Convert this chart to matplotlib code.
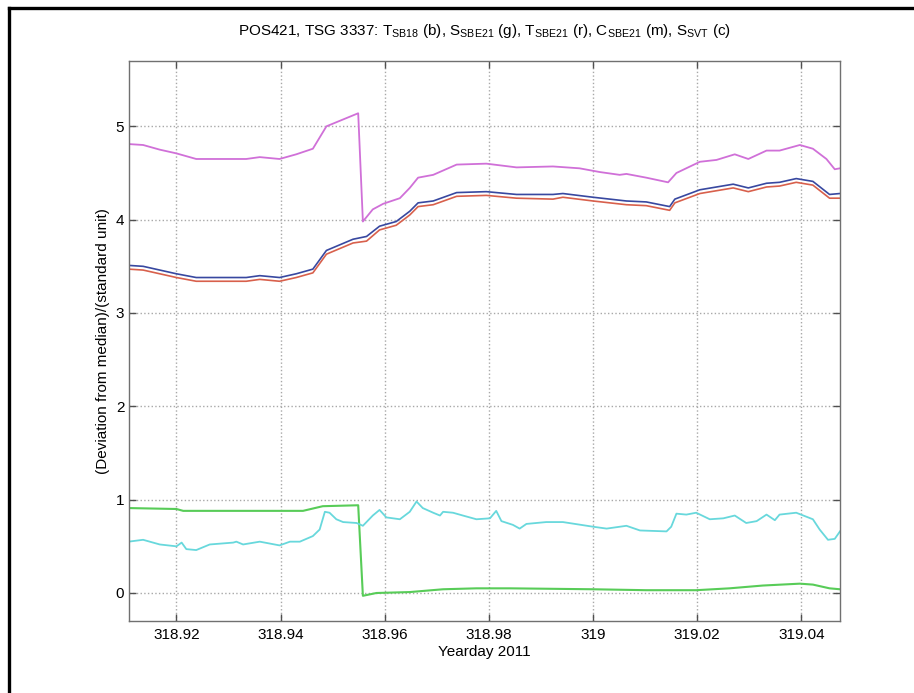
import matplotlib
matplotlib.use("Agg")
import matplotlib.pyplot as plt
from matplotlib.lines import Line2D

plt.rcParams['font.family'] = ['Liberation Sans', 'DejaVu Sans']

# C_SBE21 (magenta)
mag_x = [318.9108, 318.9136, 318.9168, 318.9200, 318.9238, 318.9334, 318.9360, 318.9398,
         318.9430, 318.9462, 318.9488, 318.9549, 318.9558, 318.9577, 318.9597, 318.9629,
         318.9648, 318.9664, 318.9693, 318.9738, 318.9795, 318.9853, 318.9923, 318.9974,
         319.0013, 319.0051, 319.0064, 319.0102, 319.0144, 319.0160, 319.0205, 319.0237,
         319.0272, 319.0298, 319.0333, 319.0358, 319.0397, 319.0422, 319.0448, 319.0464,
         319.0474]
mag_y = [4.81, 4.80, 4.75, 4.71, 4.65, 4.65, 4.67, 4.65,
         4.70, 4.76, 5.00, 5.14, 3.98, 4.11, 4.17, 4.23,
         4.34, 4.45, 4.48, 4.59, 4.60, 4.56, 4.57, 4.55,
         4.51, 4.48, 4.49, 4.45, 4.40, 4.50, 4.62, 4.64,
         4.70, 4.65, 4.74, 4.74, 4.80, 4.76, 4.65, 4.54,
         4.55]

# T_SB18 (blue) and T_SBE21 (red)
temp_x = [318.9108, 318.9136, 318.9200, 318.9238, 318.9334, 318.9360, 318.9398, 318.9430,
          318.9462, 318.9488, 318.9539, 318.9565, 318.9590, 318.9622, 318.9648, 318.9664,
          318.9693, 318.9738, 318.9795, 318.9853, 318.9923, 318.9942, 319.0000, 319.0064,
          319.0102, 319.0147, 319.0157, 319.0205, 319.0269, 319.0298, 319.0333, 319.0358,
          319.0390, 319.0422, 319.0454, 319.0474]
blue_y = [3.51, 3.50, 3.42, 3.38, 3.38, 3.40, 3.38, 3.42,
          3.47, 3.67, 3.79, 3.82, 3.93, 3.98, 4.09, 4.18,
          4.20, 4.29, 4.30, 4.27, 4.27, 4.28, 4.24, 4.20,
          4.19, 4.14, 4.22, 4.32, 4.38, 4.34, 4.39, 4.40,
          4.44, 4.41, 4.27, 4.28]
red_y = [3.47, 3.46, 3.38, 3.34, 3.34, 3.36, 3.34, 3.38,
         3.43, 3.63, 3.75, 3.77, 3.89, 3.94, 4.05, 4.14,
         4.16, 4.25, 4.26, 4.23, 4.22, 4.24, 4.20, 4.16,
         4.15, 4.10, 4.18, 4.28, 4.34, 4.30, 4.35, 4.36,
         4.40, 4.37, 4.23, 4.23]

# S_SVT (cyan)
cyan_x = [318.9108, 318.9136, 318.9168, 318.9200, 318.9210, 318.9219, 318.9238, 318.9264,
          318.9309, 318.9315, 318.9328, 318.9360, 318.9398, 318.9418, 318.9437, 318.9462,
          318.9475, 318.9485, 318.9494, 318.9507, 318.9520, 318.9546, 318.9558, 318.9577,
          318.9590, 318.9603, 318.9629, 318.9648, 318.9661, 318.9673, 318.9693, 318.9706,
          318.9712, 318.9731, 318.9750, 318.9776, 318.9802, 318.9814, 318.9824, 318.9846,
          318.9859, 318.9872, 318.9910, 318.9942, 319.0000, 319.0026, 319.0064, 319.0090,
          319.0141, 319.0150, 319.0160, 319.0179, 319.0198, 319.0224, 319.0250, 319.0272,
          319.0294, 319.0314, 319.0333, 319.0349, 319.0358, 319.0390, 319.0422, 319.0435,
          319.0451, 319.0464, 319.0474]
cyan_y = [0.55, 0.57, 0.52, 0.50, 0.54, 0.47, 0.46, 0.52,
          0.54, 0.55, 0.52, 0.55, 0.51, 0.55, 0.55, 0.61,
          0.68, 0.87, 0.86, 0.79, 0.76, 0.75, 0.72, 0.83,
          0.89, 0.81, 0.79, 0.87, 0.98, 0.91, 0.86, 0.83,
          0.87, 0.86, 0.83, 0.79, 0.80, 0.88, 0.77, 0.73,
          0.69, 0.74, 0.76, 0.76, 0.71, 0.69, 0.72, 0.67,
          0.66, 0.71, 0.85, 0.84, 0.86, 0.79, 0.80, 0.83,
          0.75, 0.77, 0.84, 0.78, 0.84, 0.86, 0.79, 0.68,
          0.57, 0.58, 0.66]

# S_SBE21 (green)
green_x = [318.9108, 318.9200, 318.9213, 318.9443, 318.9481, 318.9549, 318.9558, 318.9584,
           318.9648, 318.9712, 318.9776, 318.9840, 319.0000, 319.0102, 319.0198, 319.0262,
           319.0326, 319.0397, 319.0422, 319.0454, 319.0474]
green_y = [0.91, 0.90, 0.88, 0.88, 0.93, 0.94, -0.03, 0.00,
           0.01, 0.04, 0.05, 0.05, 0.04, 0.03, 0.03, 0.05,
           0.08, 0.10, 0.09, 0.05, 0.04]

xticks = [318.92, 318.94, 318.96, 318.98, 319.0, 319.02, 319.04]
xtick_labels = ['318.92', '318.94', '318.96', '318.98', '319', '319.02', '319.04']
yticks = [0, 1, 2, 3, 4, 5]

fig = plt.figure(figsize=(9.14, 6.93), dpi=100)
ax = fig.add_axes([0.1406, 0.1039, 0.919 - 0.1406, 0.912 - 0.1039])

ax.plot(temp_x, red_y, color='#d8604c', lw=1.2)
ax.plot(temp_x, blue_y, color='#3848a0', lw=1.2)
ax.plot(mag_x, mag_y, color='#d070d8', lw=1.3)
ax.plot(green_x, green_y, color='#58cc58', lw=1.5)
ax.plot(cyan_x, cyan_y, color='#68d8dc', lw=1.3)

ax.set_xlim(318.9108, 319.0474)
ax.set_ylim(-0.3, 5.7)
ax.set_xticks(xticks)
ax.set_xticklabels(xtick_labels)
ax.set_yticks(yticks)
ax.grid(True, linestyle=':', color='#a8a8a8', linewidth=1.0)
ax.tick_params(direction='in', length=5, width=1, color='#505050',
               top=True, right=True, labelsize=11)
ax.tick_params(axis='x', pad=5)
ax.tick_params(axis='y', pad=3)
for s in ax.spines.values():
    s.set_color('#707070')
    s.set_linewidth(1.0)

ax.set_xlabel('Yearday 2011', fontsize=11, labelpad=2)
ax.set_ylabel('(Deviation from median)/(standard unit)', fontsize=11, labelpad=4)
ax.set_title(r'POS421, TSG 3337: T$_{\mathregular{SB18}}$ (b), S$_{\mathregular{SBE21}}$ (g), '
             r'T$_{\mathregular{SBE21}}$ (r), C$_{\mathregular{SBE21}}$ (m), S$_{\mathregular{SVT}}$ (c)',
             fontsize=11, pad=19)

# black frame visible on top and left edges
fig.add_artist(Line2D([9 / 914, 1.0], [1 - 8 / 693, 1 - 8 / 693], color='black', lw=2.4,
                      transform=fig.transFigure))
fig.add_artist(Line2D([9 / 914, 9 / 914], [0.0, 1 - 8 / 693], color='black', lw=2.4,
                      transform=fig.transFigure))

fig.savefig('out.png', dpi=100)
